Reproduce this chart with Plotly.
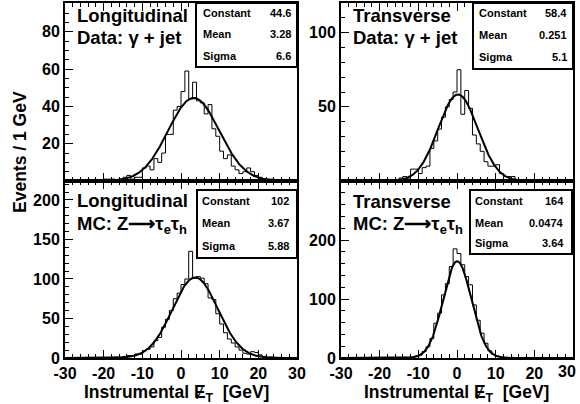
import numpy as np
import plotly.graph_objects as go

W, H = 580, 404

# 1 GeV bins from -30 to 30 (counts for bins [-30,-29) ... [29,30))
bin_edges = list(range(-30, 31))

long_data = [0] * 10 + [1, 1, 1, 0, 1, 2, 3, 1, 2, 2, 7, 8, 6, 12, 10, 15, 25, 25,
                        38, 40, 48, 59, 44, 53, 43, 42, 36, 41, 28, 24, 16, 12, 14,
                        8, 6, 4, 5, 7, 5, 3, 2, 1, 1, 1] + [0] * 6
trans_data = [0] * 14 + [1, 2, 3, 2, 8, 8, 5, 9, 10, 22, 27, 35, 43, 50, 55, 60,
                         75, 45, 61, 49, 31, 25, 20, 13, 10, 10, 11, 5, 3, 3, 3, 1] + [0] * 14
long_mc = [0] * 12 + [1, 1, 1, 2, 3, 3, 5, 5, 9, 11, 14, 22, 26, 39, 49, 60, 75, 82,
                      93, 100, 135, 101, 103, 101, 94, 76, 74, 56, 43, 32, 24, 19,
                      14, 10, 6, 5, 8, 7, 4, 2, 1, 1] + [0] * 6
trans_mc = [0] * 14 + [1, 1, 1, 1, 2, 3, 5, 11, 19, 33, 59, 76, 107, 126, 155, 185,
                       177, 158, 138, 124, 90, 64, 42, 25, 12, 6, 3, 2, 1, 1, 1] + [0] * 15

hists = [long_data, trans_data, long_mc, trans_mc]

# gaussian fit results shown in the stat boxes
fit_constant = [44.6, 58.4, 102, 164]
fit_mean = [3.28, 0.251, 3.67, 0.0474]
fit_sigma = [6.6, 5.1, 5.88, 3.64]
stat_names = ["Constant", "Mean", "Sigma"]
stat_values = [["44.6", "3.28", "6.6"],
               ["58.4", "0.251", "5.1"],
               ["102", "3.67", "5.88"],
               ["164", "0.0474", "3.64"]]

titles = [("Longitudinal", "Data: γ + jet"),
          ("Transverse", "Data: γ + jet"),
          ("Longitudinal", "MC: Z⟶τ<sub>e</sub>τ<sub>h</sub>"),
          ("Transverse", "MC: Z⟶τ<sub>e</sub>τ<sub>h</sub>")]

x_ticks = [-30, -20, -10, 0, 10, 20, 30]
y_ticks = [[20, 40, 60, 80], [50, 100], [0, 50, 100, 150, 200], [0, 100, 200]]
y_max = [95.5, 120, 224, 300]
y_minor = [5, 10, 10, 20]

FONT = "Liberation Sans, Arial, Helvetica, sans-serif"

# panel frames in pixels: x0, x1, y0 (top), y1 (bottom)
frames = [(65, 297, 3, 181), (341, 573, 3, 181), (65, 297, 181, 358), (341, 573, 181, 358)]
boxes = [(196, 297, 3, 67), (473, 573, 3, 69), (197, 297, 190, 258), (470, 572, 190, 254)]
box_rows = [(12.7, 34.3, 56), (12.7, 35, 57.3), (200.7, 223.3, 246), (200.7, 222.7, 243.3)]
box_text_x = [(201, 293), (477, 569), (200, 291), (473, 566)]
title_pos = [(75, 15.5, 37.5), (351, 15.5, 37.5), (75, 200, 225), (351, 201, 225)]


def fx(x):
    return x / W


def fy(y):
    return 1 - y / H


def bold(v):
    return "<b>%s</b>" % v


fig = go.Figure()
layout = dict(
    width=W, height=H,
    margin=dict(l=0, r=0, t=0, b=0),
    paper_bgcolor="white", plot_bgcolor="white",
    showlegend=False,
    font=dict(family=FONT, color="black"),
)

xs = np.linspace(-30, 30, 601)
for i in range(4):
    n = "" if i == 0 else str(i + 1)
    counts = hists[i]
    fig.add_trace(go.Scatter(
        x=bin_edges, y=counts + [counts[-1]],
        mode="lines", line=dict(color="black", width=1, shape="hv"),
        xaxis="x" + n, yaxis="y" + n, hoverinfo="skip"
    ))
    gauss = fit_constant[i] * np.exp(-0.5 * ((xs - fit_mean[i]) / fit_sigma[i]) ** 2)
    fig.add_trace(go.Scatter(
        x=xs, y=gauss, mode="lines", line=dict(color="black", width=2),
        xaxis="x" + n, yaxis="y" + n, hoverinfo="skip"
    ))

    x0, x1, y0, y1 = frames[i]
    bottom = i >= 2
    x_text = [bold(v) for v in x_ticks]
    if i == 3:
        # last label would be lost at the window edge; drawn as an annotation below
        x_text[-1] = ""
    layout["xaxis" + n] = dict(
        domain=[fx(x0), fx(x1)], anchor="y" + n, range=[-30, 30], automargin=False,
        tickmode="array", tickvals=x_ticks, ticktext=x_text,
        ticks="inside", ticklen=8, tickwidth=1, tickcolor="black",
        minor=dict(tickmode="linear", dtick=2, tick0=-30, ticks="inside", ticklen=4, tickcolor="black"),
        showline=True, linewidth=2, linecolor="black", mirror="allticks",
        showgrid=False, zeroline=False,
        showticklabels=bottom, ticklabeloverflow="allow",
        tickfont=dict(size=16, family=FONT, color="black"),
    )
    layout["yaxis" + n] = dict(
        domain=[fy(y1), fy(y0)], anchor="x" + n, range=[0, y_max[i]], automargin=False,
        tickmode="array", tickvals=y_ticks[i], ticktext=[bold(v) for v in y_ticks[i]],
        ticks="inside", ticklen=8, tickwidth=1, tickcolor="black",
        minor=dict(tickmode="linear", dtick=y_minor[i], tick0=0, ticks="inside", ticklen=4, tickcolor="black"),
        showline=True, linewidth=2, linecolor="black", mirror=True,
        showgrid=False, zeroline=False, ticklabeloverflow="allow",
        tickfont=dict(size=16, family=FONT, color="black"),
    )

fig.update_layout(**layout)

shapes = []
annotations = []
for i in range(4):
    bx0, bx1, by0, by1 = boxes[i]
    shapes.append(dict(type="rect", xref="paper", yref="paper",
                       x0=fx(bx0), x1=fx(bx1), y0=fy(by1), y1=fy(by0),
                       line=dict(color="black", width=2), fillcolor="white", layer="above"))
    for j in range(3):
        annotations.append(dict(xref="paper", yref="paper", x=fx(box_text_x[i][0]), y=fy(box_rows[i][j]),
                                xanchor="left", yanchor="middle", showarrow=False,
                                text=bold(stat_names[j]), font=dict(size=11)))
        annotations.append(dict(xref="paper", yref="paper", x=fx(box_text_x[i][1]), y=fy(box_rows[i][j]),
                                xanchor="right", yanchor="middle", showarrow=False,
                                text=bold(stat_values[i][j]), font=dict(size=11)))
    tx, ty1, ty2 = title_pos[i]
    annotations.append(dict(xref="paper", yref="paper", x=fx(tx), y=fy(ty1),
                            xanchor="left", yanchor="middle", showarrow=False,
                            text=bold(titles[i][0]), font=dict(size=18.5)))
    annotations.append(dict(xref="paper", yref="paper", x=fx(tx), y=fy(ty2),
                            xanchor="left", yanchor="middle", showarrow=False,
                            text=bold(titles[i][1]), font=dict(size=18.5)))

# right-most x tick label of the lower right panel, kept inside the window
annotations.append(dict(xref="paper", yref="paper", x=fx(578), y=fy(371),
                        xanchor="right", yanchor="middle", showarrow=False,
                        text=bold(x_ticks[-1]), font=dict(size=16)))

# axis titles
x_title = bold("Instrumental Ɇ<sub>T</sub>\u00a0\u00a0[GeV]")
for cx in (176, 456):
    annotations.append(dict(xref="paper", yref="paper", x=fx(cx), y=fy(393),
                            xanchor="center", yanchor="middle", showarrow=False,
                            text=x_title, font=dict(size=17.5)))
annotations.append(dict(xref="paper", yref="paper", x=fx(20), y=fy(152),
                        xanchor="center", yanchor="middle", showarrow=False, textangle=-90,
                        text=bold("Events / 1 GeV"), font=dict(size=17.5)))

fig.update_layout(shapes=shapes, annotations=annotations)

# page body has a default margin and may get scrollbars; drop both
fig.write_html("out.html", config={"displayModeBar": False},
               post_script="document.body.style.margin = '0px'; document.body.style.overflow = 'hidden';")
